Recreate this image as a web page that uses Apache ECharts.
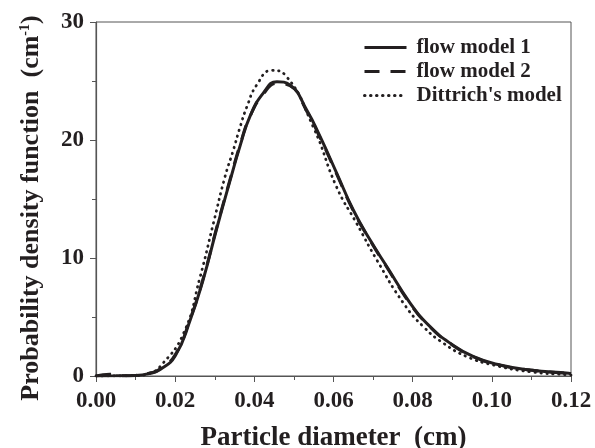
<!DOCTYPE html>
<html>
<head>
<meta charset="utf-8">
<script src="https://cdn.jsdelivr.net/npm/echarts@6/dist/echarts.min.js"></script>
<style>html,body{margin:0;padding:0;background:#fff}#c{width:595px;height:448px}</style>
</head>
<body>
<div id="c"></div>
<script>
const xTicks = [0, 0.02, 0.04, 0.06, 0.08, 0.10, 0.12];
const yTicks = [0, 10, 20, 30];
const seriesNames = ['flow model 1', 'flow model 2', "Dittrich's model"];

const xFlow1 = [0, 0.005, 0.010, 0.0137, 0.0162, 0.020, 0.0238, 0.0271, 0.0305, 0.0339, 0.0364, 0.0389, 0.0423, 0.0457, 0.049, 0.0533, 0.0566, 0.0608, 0.065, 0.0693, 0.0735, 0.0794, 0.0844, 0.0895, 0.0954, 0.1021, 0.1097, 0.1194, 0.12];
const yFlow1 = [0, 0.02, 0.05, 0.23, 0.55, 1.7, 4.75, 8.2, 12.5, 16.6, 19.5, 22.0, 24.0, 24.94, 24.66, 22.5, 20.3, 17.2, 14.07, 11.5, 9.26, 6.16, 4.18, 2.77, 1.64, 0.93, 0.51, 0.23, 0.2];

const xFlow2 = [0, 0.0035, 0.006, 0.010, 0.0137, 0.0162, 0.020, 0.0238, 0.0271, 0.0305, 0.0339, 0.0364, 0.0389, 0.0423, 0.0457, 0.049, 0.0533, 0.0566, 0.0608, 0.065, 0.0693, 0.0735, 0.0794, 0.0844, 0.0895, 0.0954, 0.1021, 0.1097, 0.1194, 0.12];
const yFlow2 = [0, 0.15, 0.02, 0.05, 0.25, 0.6, 1.8, 4.85, 8.3, 12.6, 16.7, 19.6, 22.0, 23.9, 24.8, 24.6, 22.4, 20.2, 17.1, 14.0, 11.45, 9.2, 6.1, 4.15, 2.75, 1.62, 0.92, 0.5, 0.22, 0.2];

const xDitt = [0, 0.010, 0.0137, 0.0162, 0.0221, 0.0263, 0.0297, 0.0326, 0.0347, 0.0364, 0.0381, 0.0406, 0.0444, 0.0478, 0.0549, 0.0608, 0.0659, 0.071, 0.0777, 0.0827, 0.0878, 0.0937, 0.1004, 0.1097, 0.1194, 0.12];
const yDitt = [0, 0.03, 0.25, 0.8, 3.6, 8.4, 13.0, 16.9, 19.15, 21.1, 22.8, 24.66, 25.9, 25.5, 21.1, 16.0, 12.9, 9.8, 6.16, 4.18, 2.77, 1.64, 0.93, 0.36, 0.1, 0.08];

const zip = (xs, ys) => xs.map((x, i) => [x, ys[i]]);
const FONT = 'Liberation Serif';
const INK = '#231f20';
const AX = '#555';

const chart = echarts.init(document.getElementById('c'), null, {renderer: 'canvas'});
chart.setOption({
  animation: false,
  backgroundColor: '#fff',
  grid: {left: 96, right: 24, top: 22, bottom: 72, show: true, borderColor: AX, borderWidth: 1,
    containLabel: false, outerBoundsMode: 'none'},
  legend: {
    orient: 'vertical', left: 358, top: 32,
    itemWidth: 42, itemHeight: 14, itemGap: 3,
    data: seriesNames,
    itemStyle: {opacity: 0},
    lineStyle: {width: 3},
    textStyle: {fontFamily: FONT, fontWeight: 'bold', fontSize: 21, color: INK, padding: [0, 0, 0, 5]}
  },
  xAxis: {
    type: 'value', min: xTicks[0], max: xTicks[xTicks.length - 1], interval: 0.02,
    name: 'Particle diameter  (cm)', nameLocation: 'middle', nameGap: 49,
    nameTextStyle: {fontFamily: FONT, fontWeight: 'bold', fontSize: 27, color: INK},
    axisLine: {lineStyle: {color: AX, width: 1.2}},
    axisTick: {inside: false, length: 6, lineStyle: {color: AX}},
    minorTick: {show: true, splitNumber: 2, length: 4, lineStyle: {color: AX}},
    splitLine: {show: false},
    axisLabel: {fontFamily: FONT, fontWeight: 'bold', fontSize: 23, color: INK, margin: 14,
      formatter: v => v.toFixed(2)}
  },
  yAxis: {
    type: 'value', min: yTicks[0], max: yTicks[yTicks.length - 1], interval: 10,
    name: '{a|Probability density function  (cm}{s|-1}{a|)}', nameLocation: 'middle', nameGap: 52,
    nameTextStyle: {fontFamily: FONT, fontWeight: 'bold', fontSize: 26, color: INK, padding: [0, 18, 0, 0],
      rich: {
        a: {fontFamily: FONT, fontWeight: 'bold', fontSize: 26, color: INK},
        s: {fontFamily: FONT, fontWeight: 'bold', fontSize: 14, color: INK, verticalAlign: 'top', padding: [0, 0, 12, 0]}
      }},
    axisLine: {show: true, lineStyle: {color: AX, width: 1.2}},
    axisTick: {show: true, inside: false, length: 6, lineStyle: {color: AX}},
    minorTick: {show: true, splitNumber: 2, length: 4, lineStyle: {color: AX}},
    splitLine: {show: false},
    axisLabel: {fontFamily: FONT, fontWeight: 'bold', fontSize: 23, color: INK, margin: 12}
  },
  series: [
    {name: seriesNames[0], type: 'line', data: zip(xFlow1, yFlow1), smooth: 0.5, symbol: 'none',
      lineStyle: {color: INK, width: 3, type: 'solid'}, itemStyle: {color: INK}, z: 3},
    {name: seriesNames[1], type: 'line', data: zip(xFlow2, yFlow2), smooth: 0.5, symbol: 'none',
      lineStyle: {color: INK, width: 3, type: [15, 11]}, itemStyle: {color: INK}, z: 2},
    {name: seriesNames[2], type: 'line', data: zip(xDitt, yDitt), smooth: 0.5, symbol: 'none',
      lineStyle: {color: INK, width: 2.8, type: [0.5, 5.5], cap: 'round'}, itemStyle: {color: INK}, z: 1}
  ]
});
</script>
</body>
</html>
